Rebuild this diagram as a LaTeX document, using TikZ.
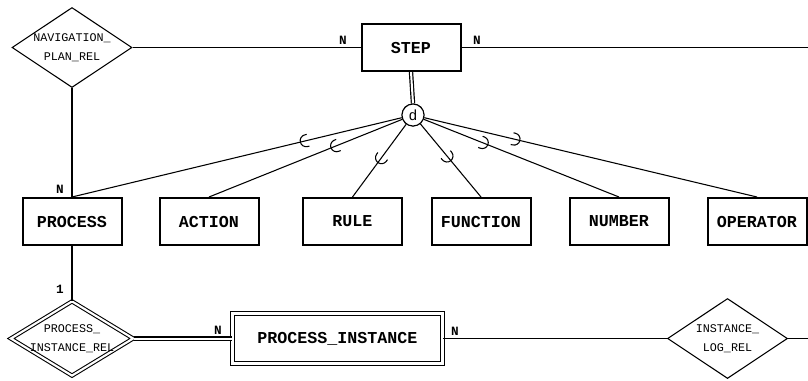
\documentclass[tikz,border=0pt]{standalone}
\usepackage{fontspec}
\setmonofont{Liberation Mono}
\usetikzlibrary{shapes.geometric,decorations.markings}
\begin{document}
\begin{tikzpicture}[x=0.75pt,y=-0.75pt,
  conn/.style={line width=0.8pt},
  ent/.style={draw, line width=1.5pt, fill=white, minimum width=74.25pt, minimum height=35.25pt, inner sep=0pt,
    font=\ttfamily\bfseries\fontsize{12.5}{14}\selectfont},
  weakent/.style={draw, line width=0.9pt, double, double distance=1.8pt, fill=white, minimum width=157.25pt, minimum height=37.25pt, inner sep=0pt,
    font=\ttfamily\bfseries\fontsize{12.5}{14}\selectfont},
  rel/.style={draw, diamond, line width=0.8pt, fill=white, inner sep=0pt, minimum width=90pt, minimum height=60pt},
  weakrel/.style={draw, diamond, line width=0.8pt, double, double distance=1.6pt, fill=white, inner sep=0pt, minimum width=92pt, minimum height=56pt},
  reltext/.style={align=center, font=\ttfamily\fontsize{8.8}{14}\selectfont},
  disj/.style={draw, circle, line width=0.8pt, fill=white, minimum size=16.5pt, inner sep=0pt, font=\ttfamily\fontsize{11}{12}\selectfont},
  lab/.style={font=\ttfamily\bfseries\fontsize{9.5}{10}\selectfont, inner sep=0pt},
  dbl/.style={line width=0.9pt, double, double distance=1.5pt},
  sub/.style={postaction={decorate, decoration={markings, mark=at position #1 with {\draw[line width=0.8pt] (-1.5pt,4.5pt) -- (0pt,4.5pt) arc[start angle=90, end angle=-90, radius=4.5pt] -- (-1.5pt,-4.5pt);}}}}
]
\useasboundingbox (0,0) rectangle (808,380);

% nodes
\node[rel, label={[reltext]center:NAVIGATION\_\\PLAN\_REL}] (nav) at (72,47.5) {};
\node[ent] (step) at (411,47.5) {STEP};
\node[disj] (d) at (413,115) {d};
\node[ent] (process) at (72,221.5) {PROCESS};
\node[ent] (action) at (209,221.5) {ACTION};
\node[ent] (rule) at (352.5,221.5) {RULE};
\node[ent] (function) at (481,221.5) {FUNCTION};
\node[ent] (number) at (619,221.5) {NUMBER};
\node[ent] (operator) at (757,221.5) {OPERATOR};
\node[weakrel, label={[reltext]center:PROCESS\_\\INSTANCE\_REL}] (pir) at (72,338.5) {};
\node[weakent] (pi) at (337.5,338.5) {PROCESS\_INSTANCE};
\node[rel, label={[reltext]center:INSTANCE\_\\LOG\_REL}] (ilr) at (727.5,338.5) {};
\coordinate (stepout) at (808,47.5);
\coordinate (ilrout) at (808,338.5);

% connectors
\draw[conn] (nav.east) -- (step.west);
\draw[conn] (step.east) -- (stepout);
\draw[conn] (nav.south) -- (process.north);
\draw[dbl] (step.south) -- (d.north);
\draw[conn, sub=0.29] (d) -- (process.north);
\draw[conn, sub=0.34] (d) -- (action.north);
\draw[conn, sub=0.46] (d) -- (rule.north);
\draw[conn, sub=0.44] (d) -- (function.north);
\draw[conn, sub=0.30] (d) -- (number.north);
\draw[conn, sub=0.27] (d) -- (operator.north);
\draw[conn] (process.south) -- (pir.north);
\draw[dbl] (pir.east) -- (pi.west);
\draw[conn] (pi.east) -- (ilr.west);
\draw[conn] (ilr.east) -- (ilrout);

% redraw nodes on top of connectors
\node[ent] at (step) {STEP};
\node[disj] at (d) {d};

% cardinality labels
\node[lab] at (343,40) {N};
\node[lab] at (477,40) {N};
\node[lab] at (60,189) {N};
\node[lab] at (60,289) {1};
\node[lab] at (218,330) {N};
\node[lab] at (455,331) {N};
\end{tikzpicture}
\end{document}
